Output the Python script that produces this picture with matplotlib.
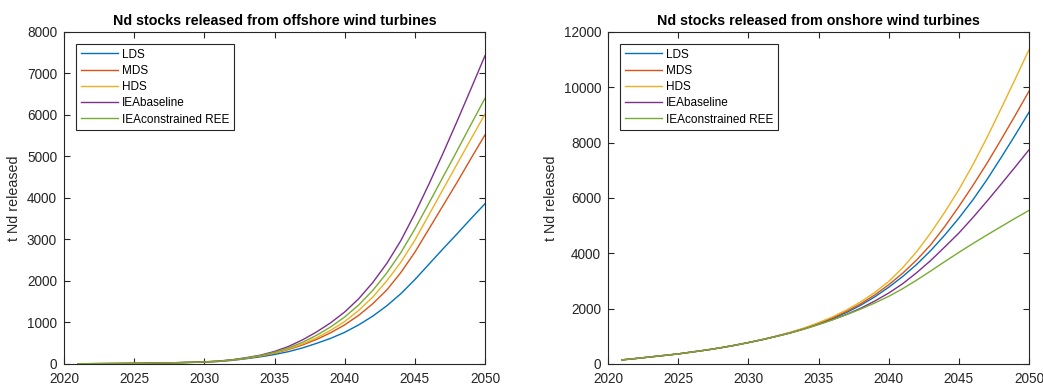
import numpy as np
import matplotlib
matplotlib.use('Agg')
import matplotlib.pyplot as plt

plt.rcParams['font.family'] = ['Liberation Sans', 'DejaVu Sans']

years = np.arange(2021, 2051)
scenarios = ['LDS', 'MDS', 'HDS', 'IEAbaseline', 'IEAconstrained REE']
colors = ['#0072BD', '#D95319', '#EDB120', '#7E2F8E', '#77AC30']

# offshore turbines, t Nd released per year
off_lds = [3, 5, 7, 9, 12, 16, 21, 27, 34, 43, 58, 85, 125, 170, 225,
           295, 385, 495, 615, 760, 940, 1150, 1400, 1690, 2030,
           2400, 2770, 3130, 3500, 3860]
off_mds = [3, 5, 7, 9, 12, 16, 21, 28, 36, 46, 62, 92, 135, 185, 255,
           345, 455, 590, 750, 940, 1170, 1450, 1780, 2200, 2690,
           3250, 3810, 4370, 4950, 5520]
off_hds = [3, 5, 7, 9, 12, 16, 21, 28, 36, 46, 63, 94, 140, 195, 265,
           360, 480, 630, 810, 1020, 1290, 1610, 2000, 2450, 2980,
           3590, 4200, 4810, 5420, 6020]
off_iea_base = [3, 5, 7, 9, 12, 16, 22, 29, 38, 49, 67, 100, 150, 210, 300,
                420, 580, 770, 990, 1250, 1570, 1960, 2420, 2970, 3620,
                4330, 5070, 5840, 6630, 7430]
off_iea_ree = [3, 5, 7, 9, 12, 16, 22, 29, 37, 47, 65, 97, 145, 200, 280,
               385, 520, 690, 890, 1130, 1420, 1770, 2190, 2680, 3250,
               3870, 4500, 5130, 5770, 6400]

# onshore turbines
on_lds = [145, 195, 250, 305, 360, 430, 500, 580, 670, 770, 880, 1000, 1130, 1280, 1450,
          1640, 1860, 2120, 2420, 2770, 3160, 3600, 4100, 4660, 5270,
          5930, 6660, 7450, 8260, 9100]
on_mds = [145, 195, 250, 305, 360, 430, 500, 580, 670, 770, 880, 1000, 1135, 1290, 1470,
          1670, 1900, 2170, 2490, 2860, 3280, 3760, 4310, 4970, 5690,
          6450, 7250, 8100, 8970, 9860]
on_hds = [145, 195, 250, 305, 360, 430, 500, 580, 670, 770, 880, 1005, 1140, 1300, 1490,
          1700, 1950, 2240, 2580, 2980, 3480, 4060, 4740, 5490, 6300,
          7200, 8180, 9220, 10280, 11360]
on_iea_base = [145, 195, 250, 305, 360, 430, 500, 580, 670, 770, 875, 995, 1120, 1265, 1430,
               1600, 1790, 2010, 2270, 2560, 2900, 3300, 3740, 4230, 4730,
               5290, 5880, 6490, 7110, 7740]
on_iea_ree = [145, 195, 250, 305, 360, 430, 500, 580, 670, 770, 875, 990, 1115, 1260, 1420,
              1590, 1780, 1980, 2200, 2440, 2720, 3030, 3360, 3700, 4030,
              4350, 4660, 4960, 5260, 5550]

panels = [
    ('Nd stocks released from offshore wind turbines',
     [off_lds, off_mds, off_hds, off_iea_base, off_iea_ree], 8000, 1000),
    ('Nd stocks released from onshore wind turbines',
     [on_lds, on_mds, on_hds, on_iea_base, on_iea_ree], 12000, 2000),
]

fig = plt.figure(figsize=(10.43, 3.9), dpi=100)
positions = [[0.0614, 0.067, 0.4036, 0.851], [0.583, 0.067, 0.4036, 0.851]]
dark = '#262626'

for pos, (title, series, ymax, ystep) in zip(positions, panels):
    ax = fig.add_axes(pos)
    for name, vals, c in zip(scenarios, series, colors):
        ax.plot(years, vals, color=c, lw=1, label=name)
    ax.set_xlim(2020, 2050)
    ax.set_ylim(0, ymax)
    ax.set_xticks(np.arange(2020, 2051, 5))
    ax.set_yticks(np.arange(0, ymax + 1, ystep))
    ax.tick_params(direction='in', top=True, right=True, length=4,
                   labelsize=9.8, colors=dark, width=0.8)
    ax.tick_params(axis='x', pad=6)
    ax.tick_params(axis='y', pad=5)
    for sp in ax.spines.values():
        sp.set_color(dark)
        sp.set_linewidth(0.8)
    ax.set_title(title, fontsize=10.3, fontweight='bold', color='black', pad=5)
    ax.set_ylabel('t Nd released', fontsize=10.3, color=dark, labelpad=4)
    leg = ax.legend(loc='upper left', fontsize=8.5, handlelength=3.2,
                    borderaxespad=1.0, labelspacing=0.36, handletextpad=0.3,
                    fancybox=False, framealpha=1, borderpad=0.4)
    leg.get_frame().set_edgecolor(dark)
    leg.get_frame().set_linewidth(0.8)

fig.savefig('out.png', dpi=100)
